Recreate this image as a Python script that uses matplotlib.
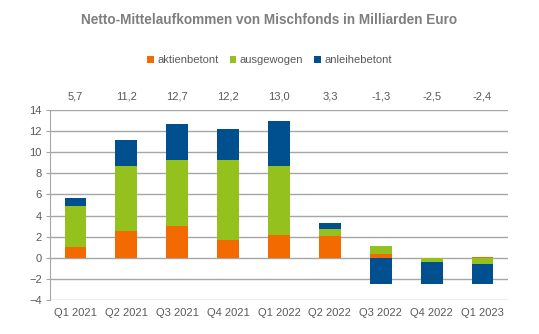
import numpy as np
import matplotlib.pyplot as plt

plt.rcParams['font.family'] = ['Liberation Sans', 'DejaVu Sans']

quarters = ['Q1 2021', 'Q2 2021', 'Q3 2021', 'Q4 2021', 'Q1 2022',
            'Q2 2022', 'Q3 2022', 'Q4 2022', 'Q1 2023']
aktienbetont = [1.0, 2.5, 3.0, 1.7, 2.2, 2.1, 0.4, 0.0, 0.1]
ausgewogen = [3.9, 6.2, 6.3, 7.6, 6.5, 0.6, 0.7, -0.4, -0.6]
anleihebetont = [0.8, 2.5, 3.4, 2.9, 4.3, 0.6, -2.5, -2.1, -1.9]
totals = ['5,7', '11,2', '12,7', '12,2', '13,0', '3,3', '-1,3', '-2,5', '-2,4']

series = [('aktienbetont', aktienbetont, '#F26A00'),
          ('ausgewogen', ausgewogen, '#95C11F'),
          ('anleihebetont', anleihebetont, '#00508F')]

text_col = '#595959'
grid_col = '#A6A6A6'

fig = plt.figure(figsize=(5.39, 3.34), dpi=100)
ax = fig.add_axes((50 / 539, 34 / 334, 458 / 539, 190 / 334))

x = np.arange(len(quarters))
pos_base = np.zeros(len(quarters))
neg_base = np.zeros(len(quarters))
for name, vals, col in series:
    v = np.array(vals)
    bottom = np.where(v >= 0, pos_base, neg_base)
    ax.bar(x, v, 0.43, bottom=bottom, color=col, label=name, zorder=3)
    pos_base = pos_base + np.where(v >= 0, v, 0)
    neg_base = neg_base + np.where(v < 0, v, 0)

ax.set_xlim(-0.5, len(quarters) - 0.5)
ax.set_ylim(-4, 14)
ax.set_yticks(range(-4, 15, 2))
ax.yaxis.grid(True, color=grid_col, linewidth=1)
ax.set_axisbelow(True)
for s in ['top', 'right', 'bottom']:
    ax.spines[s].set_visible(False)
ax.spines['left'].set_color(grid_col)
ax.tick_params(axis='y', colors=text_col, labelsize=8, length=3, color=grid_col, pad=3)
ax.tick_params(axis='x', colors=text_col, labelsize=8, length=0, pad=6)
ax.set_xticks(x)
ax.set_xticklabels(quarters)

# sums above the plot
for xi, t in zip(x, totals):
    ax.text(xi, 1.07, t, transform=ax.get_xaxis_transform(), ha='center',
            va='center', fontsize=8, color=text_col)

fig.text(0.5, 1 - 20 / 334, 'Netto-Mittelaufkommen von Mischfonds in Milliarden Euro',
         ha='center', va='center', fontsize=9.8, fontweight='bold', color='#7F7F7F')

ax.legend(loc='center', bbox_to_anchor=(0.5, 1 - 60 / 334), bbox_transform=fig.transFigure,
          ncol=3, frameon=False, fontsize=8, handlelength=0.6, handleheight=0.6,
          handletextpad=0.3, columnspacing=1.0, labelcolor=text_col)

fig.savefig('out.png', dpi=100)
